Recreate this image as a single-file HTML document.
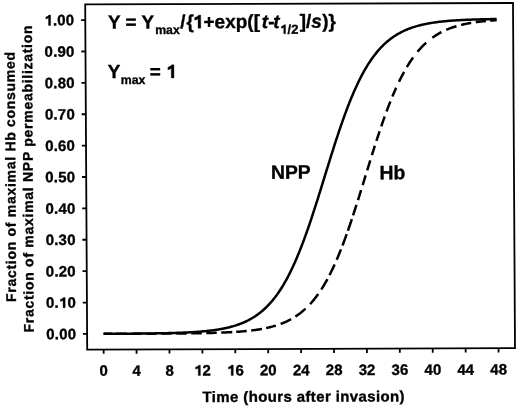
<!DOCTYPE html><html><head><meta charset="utf-8"><style>
html,body{margin:0;padding:0;background:#fff;}
svg{display:block;will-change:transform;}
text{font-family:"Liberation Sans",sans-serif;font-weight:bold;fill:#000;stroke:#000;stroke-width:0.35px;}
.o1{fill-opacity:0;stroke-opacity:0;}
</style></head><body>
<svg width="520" height="409" viewBox="0 0 520 409">
<g transform="matrix(1,-0.00327,0.00579,1,-0.0255,0.2786)">
<rect x="85.2" y="4.4" width="427.80" height="345.20" fill="none" stroke="#000" stroke-width="1.8"/>
<path d="M81.00,333.91H85.20M81.00,302.53H85.20M81.00,271.15H85.20M81.00,239.76H85.20M81.00,208.38H85.20M81.00,177.00H85.20M81.00,145.62H85.20M81.00,114.24H85.20M81.00,82.85H85.20M81.00,51.47H85.20M81.00,20.09H85.20M101.65,349.60V353.80M134.56,349.60V353.80M167.47,349.60V353.80M200.38,349.60V353.80M233.28,349.60V353.80M266.19,349.60V353.80M299.10,349.60V353.80M332.01,349.60V353.80M364.92,349.60V353.80M397.82,349.60V353.80M430.73,349.60V353.80M463.64,349.60V353.80M496.55,349.60V353.80" stroke="#000" stroke-width="1.8" fill="none"/>
<text x="74.1" y="339.11" font-size="15" text-anchor="end" textLength="29.8" lengthAdjust="spacing">0.00</text>
<text x="74.1" y="307.73" font-size="15" text-anchor="end" textLength="29.8" lengthAdjust="spacing">0.<tspan class="o1">1</tspan>0</text>
<text x="74.1" y="276.35" font-size="15" text-anchor="end" textLength="29.8" lengthAdjust="spacing">0.20</text>
<text x="74.1" y="244.96" font-size="15" text-anchor="end" textLength="29.8" lengthAdjust="spacing">0.30</text>
<text x="74.1" y="213.58" font-size="15" text-anchor="end" textLength="29.8" lengthAdjust="spacing">0.40</text>
<text x="74.1" y="182.20" font-size="15" text-anchor="end" textLength="29.8" lengthAdjust="spacing">0.50</text>
<text x="74.1" y="150.82" font-size="15" text-anchor="end" textLength="29.8" lengthAdjust="spacing">0.60</text>
<text x="74.1" y="119.44" font-size="15" text-anchor="end" textLength="29.8" lengthAdjust="spacing">0.70</text>
<text x="74.1" y="88.05" font-size="15" text-anchor="end" textLength="29.8" lengthAdjust="spacing">0.80</text>
<text x="74.1" y="56.67" font-size="15" text-anchor="end" textLength="29.8" lengthAdjust="spacing">0.90</text>
<text x="74.1" y="25.29" font-size="15" text-anchor="end" textLength="29.8" lengthAdjust="spacing"><tspan class="o1">1</tspan>.00</text>
<text x="101.65" y="375.9" font-size="15" text-anchor="middle">0</text>
<text x="134.56" y="375.9" font-size="15" text-anchor="middle">4</text>
<text x="167.47" y="375.9" font-size="15" text-anchor="middle">8</text>
<text x="200.38" y="375.9" font-size="15" text-anchor="middle"><tspan class="o1">1</tspan>2</text>
<text x="233.28" y="375.9" font-size="15" text-anchor="middle"><tspan class="o1">1</tspan>6</text>
<text x="266.19" y="375.9" font-size="15" text-anchor="middle">20</text>
<text x="299.10" y="375.9" font-size="15" text-anchor="middle">24</text>
<text x="332.01" y="375.9" font-size="15" text-anchor="middle">28</text>
<text x="364.92" y="375.9" font-size="15" text-anchor="middle">32</text>
<text x="397.82" y="375.9" font-size="15" text-anchor="middle">36</text>
<text x="430.73" y="375.9" font-size="15" text-anchor="middle">40</text>
<text x="463.64" y="375.9" font-size="15" text-anchor="middle">44</text>
<text x="496.55" y="375.9" font-size="15" text-anchor="middle">48</text>
<text x="301.2" y="402.4" font-size="15" text-anchor="middle" textLength="202" lengthAdjust="spacing">Time (hours after invasion)</text>
<text transform="translate(14.4,176.7) rotate(-90)" x="0" y="0" font-size="14" text-anchor="middle" textLength="250" lengthAdjust="spacing">Fraction of maximal Hb consumed</text>
<text transform="translate(31.8,178.8) rotate(-90)" x="0" y="0" font-size="14" text-anchor="middle" textLength="307" lengthAdjust="spacing">Fraction of maximal NPP permeabilization</text>
<text y="28.57" font-size="19"><tspan x="107.8">Y = Y</tspan><tspan x="155.0" y="34.2" font-size="12.3">max</tspan><tspan x="180.1" y="28.57">/</tspan><tspan x="186.3">{</tspan><tspan x="192.77"><tspan class="o1">1</tspan>+exp([</tspan><tspan x="261.5" font-style="italic">t</tspan><tspan x="268.0">-</tspan><tspan x="273.0" font-style="italic">t</tspan><tspan x="280.0" y="34.4" font-size="13" textLength="18.2" lengthAdjust="spacing"><tspan class="o1">1</tspan>/2</tspan><tspan x="299.6" y="28.57">]/</tspan><tspan x="311.0" font-style="italic">s</tspan><tspan x="322.0">)}</tspan></text>
<text y="78.2" font-size="19"><tspan x="107.3">Y</tspan><tspan x="120.3" y="84.2" font-size="12.3">max</tspan><tspan x="149.3" y="78.2">= <tspan class="o1">1</tspan></tspan></text>
<text x="269.9" y="179.3" font-size="19.4">NPP</text>
<text x="378.5" y="180.2" font-size="19.4">Hb</text>
<polyline points="101.65,333.90 102.48,333.90 103.30,333.90 104.12,333.90 104.94,333.90 105.77,333.90 106.59,333.90 107.41,333.90 108.24,333.90 109.06,333.90 109.88,333.90 110.70,333.90 111.53,333.90 112.35,333.90 113.17,333.90 113.99,333.90 114.82,333.90 115.64,333.90 116.46,333.90 117.28,333.90 118.11,333.90 118.93,333.89 119.75,333.89 120.58,333.89 121.40,333.89 122.22,333.89 123.04,333.89 123.87,333.89 124.69,333.89 125.51,333.89 126.33,333.89 127.16,333.89 127.98,333.89 128.80,333.89 129.63,333.89 130.45,333.89 131.27,333.89 132.09,333.88 132.92,333.88 133.74,333.88 134.56,333.88 135.38,333.88 136.21,333.88 137.03,333.88 137.85,333.88 138.68,333.88 139.50,333.88 140.32,333.87 141.14,333.87 141.97,333.87 142.79,333.87 143.61,333.87 144.43,333.87 145.26,333.87 146.08,333.87 146.90,333.86 147.72,333.86 148.55,333.86 149.37,333.86 150.19,333.86 151.02,333.86 151.84,333.85 152.66,333.85 153.48,333.85 154.31,333.85 155.13,333.85 155.95,333.84 156.77,333.84 157.60,333.84 158.42,333.84 159.24,333.83 160.06,333.83 160.89,333.83 161.71,333.83 162.53,333.82 163.36,333.82 164.18,333.82 165.00,333.82 165.82,333.81 166.65,333.81 167.47,333.81 168.29,333.80 169.11,333.80 169.94,333.79 170.76,333.79 171.58,333.79 172.41,333.78 173.23,333.78 174.05,333.77 174.87,333.77 175.70,333.76 176.52,333.76 177.34,333.75 178.16,333.75 178.99,333.74 179.81,333.74 180.63,333.73 181.46,333.73 182.28,333.72 183.10,333.71 183.92,333.71 184.75,333.70 185.57,333.69 186.39,333.68 187.21,333.68 188.04,333.67 188.86,333.66 189.68,333.65 190.50,333.64 191.33,333.63 192.15,333.63 192.97,333.62 193.80,333.61 194.62,333.60 195.44,333.58 196.26,333.57 197.09,333.56 197.91,333.55 198.73,333.54 199.55,333.53 200.38,333.51 201.20,333.50 202.02,333.49 202.85,333.47 203.67,333.46 204.49,333.44 205.31,333.42 206.14,333.41 206.96,333.39 207.78,333.37 208.60,333.36 209.43,333.34 210.25,333.32 211.07,333.30 211.89,333.28 212.72,333.26 213.54,333.23 214.36,333.21 215.19,333.19 216.01,333.16 216.83,333.14 217.65,333.11 218.48,333.08 219.30,333.05 220.12,333.03 220.94,333.00 221.77,332.96 222.59,332.93 223.41,332.90 224.24,332.87 225.06,332.83 225.88,332.79 226.70,332.76 227.53,332.72 228.35,332.68 229.17,332.63 229.99,332.59 230.82,332.55 231.64,332.50 232.46,332.45 233.28,332.40 234.11,332.35 234.93,332.30 235.75,332.25 236.58,332.19 237.40,332.13 238.22,332.07 239.04,332.01 239.87,331.94 240.69,331.88 241.51,331.81 242.33,331.74 243.16,331.66 243.98,331.59 244.80,331.51 245.62,331.43 246.45,331.35 247.27,331.26 248.09,331.17 248.92,331.08 249.74,330.98 250.56,330.88 251.38,330.78 252.21,330.68 253.03,330.57 253.85,330.45 254.67,330.34 255.50,330.22 256.32,330.09 257.14,329.97 257.97,329.83 258.79,329.70 259.61,329.55 260.43,329.41 261.26,329.26 262.08,329.10 262.90,328.94 263.72,328.77 264.55,328.60 265.37,328.43 266.19,328.24 267.02,328.05 267.84,327.86 268.66,327.66 269.48,327.45 270.31,327.23 271.13,327.01 271.95,326.78 272.77,326.54 273.60,326.30 274.42,326.05 275.24,325.79 276.06,325.52 276.89,325.24 277.71,324.95 278.53,324.66 279.36,324.35 280.18,324.04 281.00,323.71 281.82,323.38 282.65,323.03 283.47,322.67 284.29,322.30 285.11,321.92 285.94,321.53 286.76,321.13 287.58,320.71 288.40,320.28 289.23,319.84 290.05,319.38 290.87,318.91 291.70,318.43 292.52,317.93 293.34,317.41 294.16,316.88 294.99,316.33 295.81,315.77 296.63,315.19 297.45,314.59 298.28,313.98 299.10,313.34 299.92,312.69 300.75,312.02 301.57,311.33 302.39,310.61 303.21,309.88 304.04,309.13 304.86,308.35 305.68,307.56 306.50,306.74 307.33,305.90 308.15,305.03 308.97,304.14 309.80,303.23 310.62,302.29 311.44,301.32 312.26,300.33 313.09,299.32 313.91,298.27 314.73,297.20 315.55,296.10 316.38,294.98 317.20,293.82 318.02,292.63 318.84,291.42 319.67,290.18 320.49,288.90 321.31,287.59 322.14,286.26 322.96,284.89 323.78,283.49 324.60,282.06 325.43,280.59 326.25,279.09 327.07,277.56 327.89,276.00 328.72,274.40 329.54,272.77 330.36,271.11 331.19,269.41 332.01,267.68 332.83,265.91 333.65,264.11 334.48,262.28 335.30,260.41 336.12,258.51 336.94,256.58 337.77,254.61 338.59,252.61 339.41,250.58 340.23,248.52 341.06,246.42 341.88,244.29 342.70,242.13 343.53,239.95 344.35,237.73 345.17,235.48 345.99,233.21 346.82,230.90 347.64,228.58 348.46,226.22 349.28,223.84 350.11,221.44 350.93,219.01 351.75,216.56 352.57,214.09 353.40,211.61 354.22,209.10 355.04,206.57 355.87,204.03 356.69,201.48 357.51,198.91 358.33,196.33 359.16,193.74 359.98,191.14 360.80,188.53 361.62,185.92 362.45,183.30 363.27,180.68 364.09,178.05 364.92,175.42 365.74,172.80 366.56,170.18 367.38,167.56 368.21,164.95 369.03,162.34 369.85,159.74 370.67,157.15 371.50,154.57 372.32,152.01 373.14,149.46 373.96,146.92 374.79,144.40 375.61,141.90 376.43,139.41 377.26,136.95 378.08,134.50 378.90,132.08 379.72,129.68 380.55,127.31 381.37,124.96 382.19,122.63 383.01,120.34 383.84,118.07 384.66,115.83 385.48,113.61 386.31,111.43 387.13,109.28 387.95,107.16 388.77,105.07 389.60,103.01 390.42,100.99 391.24,98.99 392.06,97.03 392.89,95.11 393.71,93.21 394.53,91.35 395.36,89.52 396.18,87.73 397.00,85.97 397.82,84.25 398.65,82.56 399.47,80.90 400.29,79.28 401.11,77.68 401.94,76.13 402.76,74.60 403.58,73.11 404.40,71.65 405.23,70.23 406.05,68.83 406.87,67.47 407.70,66.14 408.52,64.84 409.34,63.57 410.16,62.33 410.99,61.13 411.81,59.95 412.63,58.80 413.45,57.68 414.28,56.58 415.10,55.52 415.92,54.48 416.75,53.47 417.57,52.48 418.39,51.52 419.21,50.59 420.04,49.68 420.86,48.79 421.68,47.93 422.50,47.10 423.33,46.28 424.15,45.49 424.97,44.72 425.79,43.97 426.62,43.24 427.44,42.53 428.26,41.85 429.09,41.18 429.91,40.53 430.73,39.90 431.55,39.29 432.38,38.69 433.20,38.12 434.02,37.56 434.84,37.01 435.67,36.48 436.49,35.97 437.31,35.48 438.13,34.99 438.96,34.53 439.78,34.07 440.60,33.63 441.43,33.20 442.25,32.79 443.07,32.39 443.89,32.00 444.72,31.62 445.54,31.26 446.36,30.90 447.18,30.56 448.01,30.22 448.83,29.90 449.65,29.59 450.48,29.28 451.30,28.99 452.12,28.70 452.94,28.43 453.77,28.16 454.59,27.90 455.41,27.65 456.23,27.41 457.06,27.17 457.88,26.95 458.70,26.72 459.53,26.51 460.35,26.30 461.17,26.10 461.99,25.91 462.82,25.72 463.64,25.54 464.46,25.36 465.28,25.19 466.11,25.03 466.93,24.87 467.75,24.71 468.57,24.56 469.40,24.42 470.22,24.28 471.04,24.14 471.87,24.01 472.69,23.88 473.51,23.76 474.33,23.64 475.16,23.52 475.98,23.41 476.80,23.30 477.62,23.20 478.45,23.10 479.27,23.00 480.09,22.90 480.92,22.81 481.74,22.72 482.56,22.64 483.38,22.55 484.21,22.47 485.03,22.40 485.85,22.32 486.67,22.25 487.50,22.18 488.32,22.11 489.14,22.04 489.96,21.98 490.79,21.92 491.61,21.86 492.43,21.80 493.26,21.74 494.08,21.69 494.90,21.64 495.72,21.59 496.55,21.54" fill="none" stroke="#000" stroke-width="2.5" stroke-dasharray="8.21 4.50 10.50 4.50 10.50 4.50 10.50 4.50 10.50 4.50 10.50 4.50 10.50 4.50 10.50 4.50 11.06 3.91 10.53 4.54 10.89 4.28 9.97 5.07 11.57 4.96 12.89 6.57 13.02 5.34 12.10 4.47 11.89 5.11 11.22 4.26 12.08 3.57 12.30 3.92 11.14 4.82 10.48 5.31 10.17 5.33 10.49 5.36 9.93 5.18 10.07 5.12 10.56 5.31 10.64 5.39 9.50 6.66 11.09 5.72 11.43 7.17 12.62 7.94 10.75 5.23 10.89 4.84 10.24 4.70 10.21 4.31 18.17 50.00"/>
<polyline points="101.65,333.87 102.48,333.87 103.30,333.87 104.12,333.87 104.94,333.86 105.77,333.86 106.59,333.86 107.41,333.86 108.24,333.86 109.06,333.86 109.88,333.86 110.70,333.85 111.53,333.85 112.35,333.85 113.17,333.85 113.99,333.85 114.82,333.84 115.64,333.84 116.46,333.84 117.28,333.84 118.11,333.83 118.93,333.83 119.75,333.83 120.58,333.83 121.40,333.82 122.22,333.82 123.04,333.82 123.87,333.81 124.69,333.81 125.51,333.81 126.33,333.80 127.16,333.80 127.98,333.80 128.80,333.79 129.63,333.79 130.45,333.78 131.27,333.78 132.09,333.78 132.92,333.77 133.74,333.77 134.56,333.76 135.38,333.76 136.21,333.75 137.03,333.75 137.85,333.74 138.68,333.74 139.50,333.73 140.32,333.72 141.14,333.72 141.97,333.71 142.79,333.70 143.61,333.70 144.43,333.69 145.26,333.68 146.08,333.67 146.90,333.67 147.72,333.66 148.55,333.65 149.37,333.64 150.19,333.63 151.02,333.62 151.84,333.61 152.66,333.60 153.48,333.59 154.31,333.58 155.13,333.57 155.95,333.56 156.77,333.55 157.60,333.54 158.42,333.52 159.24,333.51 160.06,333.50 160.89,333.48 161.71,333.47 162.53,333.45 163.36,333.44 164.18,333.42 165.00,333.41 165.82,333.39 166.65,333.37 167.47,333.35 168.29,333.33 169.11,333.31 169.94,333.29 170.76,333.27 171.58,333.25 172.41,333.23 173.23,333.21 174.05,333.18 174.87,333.16 175.70,333.13 176.52,333.11 177.34,333.08 178.16,333.05 178.99,333.02 179.81,332.99 180.63,332.96 181.46,332.93 182.28,332.90 183.10,332.86 183.92,332.83 184.75,332.79 185.57,332.75 186.39,332.71 187.21,332.67 188.04,332.63 188.86,332.59 189.68,332.54 190.50,332.50 191.33,332.45 192.15,332.40 192.97,332.35 193.80,332.30 194.62,332.24 195.44,332.19 196.26,332.13 197.09,332.07 197.91,332.01 198.73,331.94 199.55,331.88 200.38,331.81 201.20,331.74 202.02,331.66 202.85,331.59 203.67,331.51 204.49,331.43 205.31,331.35 206.14,331.26 206.96,331.17 207.78,331.08 208.60,330.99 209.43,330.89 210.25,330.79 211.07,330.68 211.89,330.57 212.72,330.46 213.54,330.35 214.36,330.23 215.19,330.10 216.01,329.98 216.83,329.84 217.65,329.71 218.48,329.57 219.30,329.42 220.12,329.27 220.94,329.12 221.77,328.96 222.59,328.79 223.41,328.62 224.24,328.45 225.06,328.26 225.88,328.08 226.70,327.88 227.53,327.68 228.35,327.48 229.17,327.26 229.99,327.04 230.82,326.81 231.64,326.58 232.46,326.34 233.28,326.09 234.11,325.83 234.93,325.56 235.75,325.29 236.58,325.00 237.40,324.71 238.22,324.41 239.04,324.10 239.87,323.77 240.69,323.44 241.51,323.10 242.33,322.75 243.16,322.38 243.98,322.01 244.80,321.62 245.62,321.22 246.45,320.81 247.27,320.38 248.09,319.94 248.92,319.49 249.74,319.03 250.56,318.55 251.38,318.05 252.21,317.54 253.03,317.02 253.85,316.48 254.67,315.92 255.50,315.35 256.32,314.76 257.14,314.15 257.97,313.52 258.79,312.88 259.61,312.21 260.43,311.53 261.26,310.83 262.08,310.10 262.90,309.36 263.72,308.59 264.55,307.81 265.37,307.00 266.19,306.17 267.02,305.31 267.84,304.43 268.66,303.53 269.48,302.61 270.31,301.65 271.13,300.68 271.95,299.67 272.77,298.64 273.60,297.59 274.42,296.50 275.24,295.39 276.06,294.25 276.89,293.08 277.71,291.88 278.53,290.65 279.36,289.39 280.18,288.11 281.00,286.79 281.82,285.44 282.65,284.05 283.47,282.64 284.29,281.19 285.11,279.72 285.94,278.20 286.76,276.66 287.58,275.08 288.40,273.47 289.23,271.83 290.05,270.15 290.87,268.44 291.70,266.70 292.52,264.92 293.34,263.11 294.16,261.27 294.99,259.39 295.81,257.48 296.63,255.54 297.45,253.56 298.28,251.55 299.10,249.51 299.92,247.44 300.75,245.33 301.57,243.20 302.39,241.04 303.21,238.84 304.04,236.62 304.86,234.37 305.68,232.09 306.50,229.78 307.33,227.45 308.15,225.09 308.97,222.71 309.80,220.30 310.62,217.88 311.44,215.43 312.26,212.96 313.09,210.47 313.91,207.97 314.73,205.45 315.55,202.91 316.38,200.36 317.20,197.80 318.02,195.22 318.84,192.64 319.67,190.05 320.49,187.45 321.31,184.84 322.14,182.23 322.96,179.61 323.78,177.00 324.60,174.39 325.43,171.77 326.25,169.16 327.07,166.55 327.89,163.95 328.72,161.36 329.54,158.78 330.36,156.20 331.19,153.64 332.01,151.09 332.83,148.55 333.65,146.03 334.48,143.53 335.30,141.04 336.12,138.57 336.94,136.12 337.77,133.70 338.59,131.29 339.41,128.91 340.23,126.55 341.06,124.22 341.88,121.91 342.70,119.63 343.53,117.38 344.35,115.16 345.17,112.96 345.99,110.80 346.82,108.67 347.64,106.56 348.46,104.49 349.28,102.45 350.11,100.44 350.93,98.46 351.75,96.52 352.57,94.61 353.40,92.73 354.22,90.89 355.04,89.08 355.87,87.30 356.69,85.56 357.51,83.85 358.33,82.17 359.16,80.53 359.98,78.92 360.80,77.34 361.62,75.80 362.45,74.28 363.27,72.81 364.09,71.36 364.92,69.95 365.74,68.56 366.56,67.21 367.38,65.89 368.21,64.61 369.03,63.35 369.85,62.12 370.67,60.92 371.50,59.75 372.32,58.61 373.14,57.50 373.96,56.41 374.79,55.36 375.61,54.33 376.43,53.32 377.26,52.35 378.08,51.39 378.90,50.47 379.72,49.57 380.55,48.69 381.37,47.83 382.19,47.00 383.01,46.19 383.84,45.41 384.66,44.64 385.48,43.90 386.31,43.17 387.13,42.47 387.95,41.79 388.77,41.12 389.60,40.48 390.42,39.85 391.24,39.24 392.06,38.65 392.89,38.08 393.71,37.52 394.53,36.98 395.36,36.46 396.18,35.95 397.00,35.45 397.82,34.97 398.65,34.51 399.47,34.06 400.29,33.62 401.11,33.19 401.94,32.78 402.76,32.38 403.58,31.99 404.40,31.62 405.23,31.25 406.05,30.90 406.87,30.56 407.70,30.23 408.52,29.90 409.34,29.59 410.16,29.29 410.99,29.00 411.81,28.71 412.63,28.44 413.45,28.17 414.28,27.91 415.10,27.66 415.92,27.42 416.75,27.19 417.57,26.96 418.39,26.74 419.21,26.52 420.04,26.32 420.86,26.12 421.68,25.92 422.50,25.74 423.33,25.55 424.15,25.38 424.97,25.21 425.79,25.04 426.62,24.88 427.44,24.73 428.26,24.58 429.09,24.43 429.91,24.29 430.73,24.16 431.55,24.02 432.38,23.90 433.20,23.77 434.02,23.65 434.84,23.54 435.67,23.43 436.49,23.32 437.31,23.21 438.13,23.11 438.96,23.01 439.78,22.92 440.60,22.83 441.43,22.74 442.25,22.65 443.07,22.57 443.89,22.49 444.72,22.41 445.54,22.34 446.36,22.26 447.18,22.19 448.01,22.12 448.83,22.06 449.65,21.99 450.48,21.93 451.30,21.87 452.12,21.81 452.94,21.76 453.77,21.70 454.59,21.65 455.41,21.60 456.23,21.55 457.06,21.50 457.88,21.46 458.70,21.41 459.53,21.37 460.35,21.33 461.17,21.29 461.99,21.25 462.82,21.21 463.64,21.17 464.46,21.14 465.28,21.10 466.11,21.07 466.93,21.04 467.75,21.01 468.57,20.98 469.40,20.95 470.22,20.92 471.04,20.89 471.87,20.87 472.69,20.84 473.51,20.82 474.33,20.79 475.16,20.77 475.98,20.75 476.80,20.73 477.62,20.71 478.45,20.69 479.27,20.67 480.09,20.65 480.92,20.63 481.74,20.61 482.56,20.59 483.38,20.58 484.21,20.56 485.03,20.55 485.85,20.53 486.67,20.52 487.50,20.50 488.32,20.49 489.14,20.48 489.96,20.46 490.79,20.45 491.61,20.44 492.43,20.43 493.26,20.42 494.08,20.41 494.90,20.40 495.72,20.39 496.55,20.38" fill="none" stroke="#000" stroke-width="2.5" stroke-linejoin="round"/>
<path transform="translate(57.21,307.73) scale(0.007324,-0.007324)" d="M 850 0 L 560 0 L 560 1030 Q 420 910 200 870 L 200 1150 Q 480 1230 630 1409 L 850 1409 Z" fill="#000" stroke="#000" stroke-width="47.8"/>
<path transform="translate(44.30,25.29) scale(0.007324,-0.007324)" d="M 850 0 L 560 0 L 560 1030 Q 420 910 200 870 L 200 1150 Q 480 1230 630 1409 L 850 1409 Z" fill="#000" stroke="#000" stroke-width="47.8"/>
<path transform="translate(192.04,375.90) scale(0.007324,-0.007324)" d="M 850 0 L 560 0 L 560 1030 Q 420 910 200 870 L 200 1150 Q 480 1230 630 1409 L 850 1409 Z" fill="#000" stroke="#000" stroke-width="47.8"/>
<path transform="translate(224.94,375.90) scale(0.007324,-0.007324)" d="M 850 0 L 560 0 L 560 1030 Q 420 910 200 870 L 200 1150 Q 480 1230 630 1409 L 850 1409 Z" fill="#000" stroke="#000" stroke-width="47.8"/>
<path transform="translate(192.77,28.57) scale(0.009277,-0.009277)" d="M 850 0 L 560 0 L 560 1030 Q 420 910 200 870 L 200 1150 Q 480 1230 630 1409 L 850 1409 Z" fill="#000" stroke="#000" stroke-width="37.7"/>
<path transform="translate(280.00,34.40) scale(0.006348,-0.006348)" d="M 850 0 L 560 0 L 560 1030 Q 420 910 200 870 L 200 1150 Q 480 1230 630 1409 L 850 1409 Z" fill="#000" stroke="#000" stroke-width="55.1"/>
<path transform="translate(165.67,78.20) scale(0.009277,-0.009277)" d="M 850 0 L 560 0 L 560 1030 Q 420 910 200 870 L 200 1150 Q 480 1230 630 1409 L 850 1409 Z" fill="#000" stroke="#000" stroke-width="37.7"/>
</g></svg></body></html>
